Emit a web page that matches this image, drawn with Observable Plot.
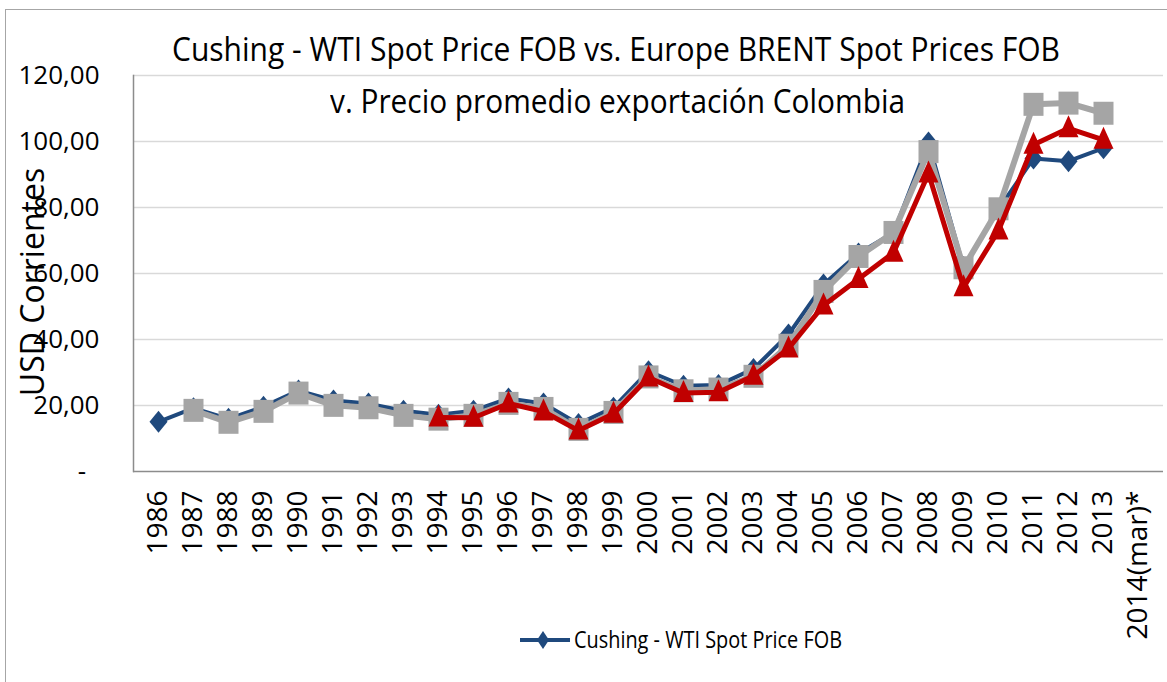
<!DOCTYPE html>
<html>
<head>
<meta charset="utf-8">
<script src="https://cdn.jsdelivr.net/npm/d3@7"></script>
<script src="https://cdn.jsdelivr.net/npm/@observablehq/plot@0.6"></script>
<style>
  body { margin: 0; background: #fff; }
  #wrap { position: relative; width: 1167px; height: 682px; overflow: hidden; background: #fff; }
  #chart { position: absolute; left: 0; top: 0; }
  .t { position: absolute; white-space: nowrap; line-height: 1; color: #000;
       font-family: "Open Sans", sans-serif; transform-origin: 0 0; }
  #border { position: absolute; left: 5px; top: 9px; width: 1200px; height: 700px;
            border-left: 1.5px solid #a6a6a6; border-top: 1.5px solid #a6a6a6; pointer-events: none; }
  #ytitle { position: absolute; white-space: nowrap; line-height: 1; font-family: "Open Sans", sans-serif;
            font-size: 32px; color: #000; }
  #legswatch { position: absolute; left: 518px; top: 626px; }
</style>
</head>
<body>
<div id="wrap">
  <div id="chart"></div>
  <div id="border"></div>
  <div class="t" id="title">Cushing - WTI Spot Price FOB vs. Europe BRENT Spot Prices FOB</div>
  <div class="t" id="subtitle">v. Precio promedio exportación Colombia</div>
  <div id="ytitle">USD Corrientes</div>
  <svg id="legswatch" width="54" height="28" viewBox="0 0 54 28"><line x1="2" y1="14" x2="52" y2="14" stroke="#1F497D" stroke-width="4"/><path d="M25,5 L31,14 L25,23 L19,14 Z" fill="#1F497D"/></svg>
  <div class="t" id="legtext">Cushing - WTI Spot Price FOB</div>
</div>
<script>
const years = ["1986","1987","1988","1989","1990","1991","1992","1993","1994","1995","1996","1997","1998","1999","2000","2001","2002","2003","2004","2005","2006","2007","2008","2009","2010","2011","2012","2013","2014(mar)*"];
const wti = [15.05, 19.2, 15.97, 19.64, 24.53, 21.54, 20.58, 18.43, 17.2, 18.43, 22.12, 20.61, 14.42, 19.34, 30.38, 25.98, 26.18, 31.08, 41.51, 56.64, 66.05, 72.34, 99.67, 61.95, 79.48, 94.88, 94.05, 97.98, null];
const brent = [null, 18.53, 14.91, 18.23, 23.76, 20.04, 19.32, 17.01, 15.86, 17.02, 20.64, 19.11, 12.76, 17.9, 28.66, 24.46, 24.99, 28.85, 38.26, 54.57, 65.16, 72.44, 96.94, 61.74, 79.61, 111.26, 111.63, 108.56, null];
const colombia = [null, null, null, null, null, null, null, null, 16.4, 16.3, 20.6, 18.2, 12.4, 17.5, 28.5, 23.8, 24.0, 29.0, 37.3, 50.3, 58.3, 66.3, 90.3, 55.8, 73.0, 99.0, 104.0, 100.5, null];
const yTicks = [0, 20, 40, 60, 80, 100, 120];

const rows = years.map((year, i) => ({year, wti: wti[i], brent: brent[i], colombia: colombia[i]}));
const wtiRows = rows.filter(d => d.wti != null);
const brentRows = rows.filter(d => d.brent != null);
const colRows = rows.filter(d => d.colombia != null);

const BLUE = "#1F497D", GRAY = "#A5A5A5", RED = "#C00000";

const diamondSym = {draw(ctx) { ctx.moveTo(0, -11); ctx.lineTo(9, 0); ctx.lineTo(0, 11); ctx.lineTo(-9, 0); ctx.closePath(); }};
const squareSym = {draw(ctx) { ctx.moveTo(-10, -11.5); ctx.lineTo(10, -11.5); ctx.lineTo(10, 11.5); ctx.lineTo(-10, 11.5); ctx.closePath(); }};
const triangleSym = {draw(ctx) { ctx.moveTo(0, -13); ctx.lineTo(10, 9); ctx.lineTo(-10, 9); ctx.closePath(); }};

const chart = Plot.plot({
  width: 1167,
  height: 682,
  marginLeft: 133,
  marginRight: 4,
  marginTop: 75,
  marginBottom: 211,
  style: {background: "transparent", overflow: "visible"},
  x: {type: "point", domain: years, padding: 0.5},
  y: {domain: [0, 120]},
  marks: [
    Plot.gridY(yTicks.filter(d => d > 0), {stroke: "#D9D9D9", strokeOpacity: 1, strokeWidth: 1.5}),
    Plot.frame({anchor: "left", stroke: "#8C8C8C", strokeWidth: 1.5}),
    Plot.ruleY([0], {stroke: "#8C8C8C", strokeWidth: 1.5}),
    Plot.axisY({ticks: yTicks, tickSize: 0, tickPadding: 34, fontSize: 26, fontFamily: "Open Sans", fill: "#000",
      tickFormat: d => d === 0 ? "-\u00a0\u00a0" : d.toFixed(2).replace(".", ","), label: null}),
    Plot.axisX({tickRotate: -90, tickSize: 0, tickPadding: 19, fontSize: 28, fontFamily: "Open Sans", fill: "#000", label: null}),
    Plot.line(wtiRows, {x: "year", y: "wti", stroke: BLUE, strokeWidth: 4}),
    Plot.dot(wtiRows, {x: "year", y: "wti", symbol: diamondSym, r: 10, fill: BLUE}),
    Plot.line(brentRows, {x: "year", y: "brent", stroke: GRAY, strokeWidth: 6}),
    Plot.dot(brentRows, {x: "year", y: "brent", symbol: squareSym, r: 10, fill: GRAY}),
    Plot.line(colRows, {x: "year", y: "colombia", stroke: RED, strokeWidth: 5}),
    Plot.dot(colRows, {x: "year", y: "colombia", symbol: triangleSym, r: 10, fill: RED})
  ]
});
document.getElementById("chart").appendChild(chart);

// Fit text widths to the reference layout
function place(id, size, left, baselineY, targetW) {
  const el = document.getElementById(id);
  el.style.fontSize = size + "px";
  const w = el.getBoundingClientRect().width;
  const s = targetW / w;
  el.style.left = left + "px";
  el.style.top = (baselineY - 0.85 * size) + "px";
  el.style.transform = `scaleX(${s})`;
}
place("title", 32, 616 - 444, 60, 888);
place("subtitle", 32, 617 - 287, 112, 575);
place("legtext", 23, 574, 648, 268);

const yt = document.getElementById("ytitle");
const r = yt.getBoundingClientRect();
yt.style.left = (32 - r.width / 2) + "px";
yt.style.top = (282 - r.height / 2) + "px";
yt.style.transform = "rotate(-90deg)";
</script>
</body>
</html>
